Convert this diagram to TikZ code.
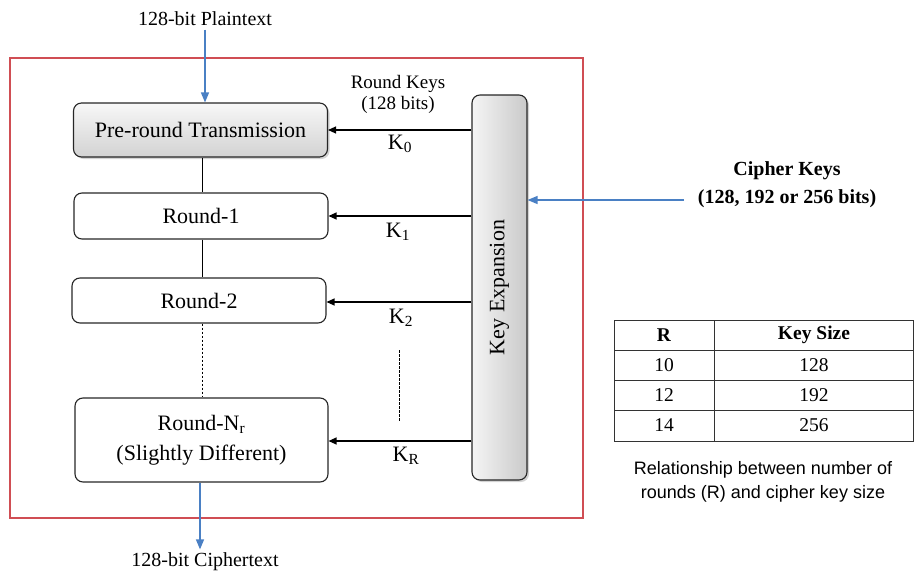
\documentclass[tikz,border=0pt]{standalone}
\usepackage{fontspec}
\setmainfont{Liberation Serif}
\newfontfamily\capfont{Liberation Sans}
\usetikzlibrary{arrows.meta,shadows}
\definecolor{framered}{RGB}{208,78,84}
\definecolor{flowblue}{RGB}{74,128,196}
\tikzset{
  roundbox/.style={draw=black!85,line width=1.1pt,rounded corners=8pt,minimum width=254pt,align=center},
  shadedbox/.style={roundbox,top color=gray!6,bottom color=gray!35,
    drop shadow={shadow xshift=2pt,shadow yshift=-2pt,opacity=0.35}},
  keyarrow/.style={-{Triangle[length=8pt,width=7pt]},line width=1.2pt},
  bluearrow/.style={-{Triangle[length=10pt,width=8pt]},line width=1.3pt,draw=flowblue},
  lbl/.style={font=\fontsize{22}{26}\selectfont},
  smlbl/.style={font=\fontsize{20}{22}\selectfont},
  tbl/.style={font=\fontsize{19.5}{22}\selectfont},
  tblh/.style={font=\bfseries\fontsize{19.5}{22}\selectfont},
}
\begin{document}
\begin{tikzpicture}[x=1pt,y=-1pt]
\useasboundingbox (0,0) rectangle (914,573);
% outer frame
\draw[framered,line width=1.2pt] (10,58) rectangle (583,518);

% round pipeline
\node[shadedbox,minimum height=54pt,lbl] (pre) at (200.5,130) {Pre-round Transmission};
\node[roundbox,minimum height=46pt,lbl] (r1) at (201,216) {Round-1};
\node[roundbox,minimum height=45pt,lbl] (r2) at (199,300.5) {Round-2};
\node[roundbox,minimum height=84pt,minimum width=253pt,lbl,align=center] (rn) at (201.5,440)
  {Round-N\textsubscript{r}\\[4pt](Slightly Different)};

\coordinate (spine) at (202,0);
\draw[line width=0.8pt] (spine |- pre.south) -- (spine |- r1.north);
\draw[line width=0.8pt] (spine |- r1.south) -- (spine |- r2.north);
\draw[line width=0.8pt,dash pattern=on 2.5pt off 1.5pt] (spine |- r2.south) -- (spine |- rn.north);

% plaintext / ciphertext
\node[smlbl] (pt) at (205,19) {128-bit Plaintext};
\draw[bluearrow] (pt.south) -- (pt.south |- pre.north);
\node[smlbl] (ct) at (205,562) {128-bit Ciphertext};
\coordinate (out) at (200,0);
\draw[bluearrow] (out |- rn.south) -- (out |- ct.north);

% key expansion column
\node[draw=black!85,line width=1.1pt,rounded corners=8pt,minimum width=55pt,minimum height=385pt,
  left color=gray!8,right color=gray!42,
  drop shadow={shadow xshift=2pt,shadow yshift=-2pt,opacity=0.35}] (ke) at (499.5,287.5) {};
\node[rotate=90,lbl] at (ke.center) {Key Expansion};

\node[font=\fontsize{19}{21}\selectfont,align=center] (rk) at (398,94.5) {Round Keys\\(128 bits)};

\coordinate (k0) at (ke.west |- 0,130);
\coordinate (k1) at (ke.west |- 0,216);
\coordinate (k2) at (ke.west |- 0,302);
\coordinate (kr) at (ke.west |- 0,441);
\draw[keyarrow] (k0) -- (pre.east |- k0);
\draw[keyarrow] (k1) -- (r1.east |- k1);
\draw[keyarrow] (k2) -- (r2.east |- k2);
\draw[keyarrow] (kr) -- (rn.east |- kr);
\node[lbl] (l0) at (400,144) {K\textsubscript{0}};
\node[lbl] (l1) at (398,232) {K\textsubscript{1}};
\node[lbl] (l2) at (401,318) {K\textsubscript{2}};
\node[lbl] (lr) at (406,456) {K\textsubscript{R}};

\coordinate (dtop) at (399,350);
\coordinate (dbot) at (399,422);
\draw[line width=0.8pt,dash pattern=on 2.5pt off 1.5pt] (dtop) -- (dbot);

% cipher key input
\node[font=\bfseries\fontsize{20}{24}\selectfont,align=center] (ck) at (787,185) {Cipher Keys\\[4pt](128, 192 or 256 bits)};
\coordinate (cks) at (684,200);
\draw[bluearrow] (cks) -- (ke.east |- cks);

% rounds vs key size table
\begin{scope}[line width=1pt,draw=black!80]
\draw (614,320) rectangle (913,441);
\draw (714,320) -- (714,441);
\draw (614,350) -- (913,350);
\draw (614,380) -- (913,380);
\draw (614,410) -- (913,410);
\end{scope}
\node[tblh] (h1) at (664,335) {R};
\node[tblh] (h2) at (814,335) {Key Size};
\node[tbl] (a1) at (664,365) {10};
\node[tbl] (b1) at (814,365) {128};
\node[tbl] (a2) at (664,395) {12};
\node[tbl] (b2) at (814,395) {192};
\node[tbl] (a3) at (664,425) {14};
\node[tbl] (b3) at (814,425) {256};
\node[font=\capfont\fontsize{18}{24}\selectfont,align=center] (cap) at (763,482)
  {Relationship between number of\\rounds (R) and cipher key size};
\end{tikzpicture}
\end{document}
